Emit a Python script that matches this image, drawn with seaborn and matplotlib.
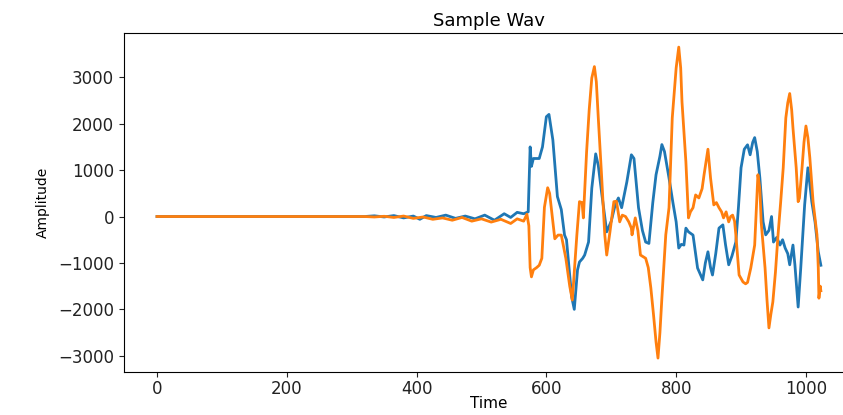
import matplotlib
matplotlib.use("Agg")
import matplotlib.pyplot as plt
import seaborn as sns

# Channel 1 (blue): sample index and amplitude
blue_t = [0, 320, 335, 350, 365, 380, 395, 405, 415, 430, 445, 460, 475, 490, 505, 520, 535, 545, 555, 565, 572,
          575, 577, 580, 589, 594, 600, 604, 610, 617, 623, 628, 631, 639, 643, 648, 651, 656, 659, 665, 670, 676,
          680, 685, 693, 700, 706, 711, 716, 724, 731, 735, 742, 748, 753, 758, 764, 769, 775, 778, 782, 789, 795,
          800, 804, 808, 812, 815, 819, 826, 833, 841, 845, 849, 853, 856, 861, 866, 872, 876, 881, 886, 892, 896,
          900, 905, 910, 914, 918, 921, 925, 929, 934, 938, 943, 947, 950, 955, 960, 964, 968, 972, 975, 980, 983,
          988, 992, 998, 1003, 1006, 1009, 1014, 1019, 1023]
blue_v = [0, 0, 15, -10, 20, -30, 10, -60, 20, -20, 30, -40, 10, -50, 30, -80, 60, -20, 90, 60, 100,
          1500, 1080, 1250, 1250, 1500, 2150, 2200, 1650, 430, 150, -400, -500, -1730, -2000, -1150, -980, -900, -830,
          -550, 610, 1350, 1100, 530, -330, -100, 250, 400, 190, 745, 1330, 1250, 190, -300, -550, -580, 300, 900,
          1300, 1550, 1400, 830, 300, -115, -680, -600, -615, -250, -330, -400, -1110, -1365, -1000, -760, -1100,
          -1260, -800, -250, -180, -600, -1040, -850, -550, 200, 1050, 1450, 1545, 1330, 1600, 1700, 1400, 830,
          -115, -395, -300, 0, -550, -450, -615, -500, -680, -800, -1040, -615, -1040, -1950, -1110, 250, 1050,
          700, 320, -115, -760, -1050]

# Channel 2 (orange): sample index and amplitude
orange_t = [0, 320, 335, 350, 365, 380, 395, 410, 425, 440, 455, 470, 485, 500, 515, 530, 545, 555, 565, 570, 573,
            575, 577, 580, 585, 589, 593, 597, 602, 605, 609, 613, 618, 623, 630, 636, 640, 644, 647, 651, 655, 657,
            662, 666, 670, 674, 677, 680, 685, 690, 693, 698, 704, 708, 713, 717, 722, 727, 731, 732, 737, 741, 745,
            753, 757, 761, 765, 769, 772, 775, 778, 784, 789, 794, 800, 804, 807, 809, 815, 819, 822, 826, 830, 835,
            840, 843, 849, 853, 858, 862, 866, 870, 873, 877, 881, 884, 887, 890, 892, 897, 903, 907, 910, 915, 921,
            926, 929, 931, 937, 940, 943, 946, 949, 953, 957, 961, 965, 969, 972, 975, 978, 980, 985, 988, 990, 994,
            997, 1000, 1003, 1006, 1011, 1017, 1019, 1020, 1022, 1023]
orange_v = [0, 0, -10, 5, -20, 10, -40, -10, -60, -30, -80, -20, -100, -50, -120, -60, -150, -50, -100, 50, -200,
            -1100, -1300, -1150, -1100, -1050, -900, 200, 620, 500, 0, -480, -400, -400, -900, -1500, -1800, -1000,
            -395, 320, 300, -30, 1395, 2300, 2985, 3230, 2900, 2125, 900, -395, -830, -330, 320, 330, -115, 30, 0,
            -115, -250, -395, -30, -300, -830, -900, -1100, -1540, -2100, -2700, -3050, -2500, -1760, -395, 190,
            2125, 3200, 3650, 3200, 2470, 1180, -30, 100, 190, 465, 400, 600, 900, 1450, 830, 250, 300, 190, 100,
            -30, 100, -115, 0, 30, -100, -395, -1260, -1410, -1450, -1420, -1110, -615, 900, 600, -115, -1110,
            -1800, -2400, -2100, -1840, -1200, -395, 300, 1050, 2125, 2450, 2650, 2300, 1910, 1050, 320, 400, 1050,
            1600, 1950, 1700, 1265, 320, -395, -1100, -1760, -1500, -1600]

title = "Sample Wav"
x_label = "Time"
y_label = "Amplitude"

fig = plt.figure(figsize=(8.43, 4.15), dpi=100)
ax = fig.add_axes([0.147, 0.1036, 0.866, 0.817])

sns.lineplot(x=blue_t, y=blue_v, ax=ax, color="#1f77b4", linewidth=2.0, estimator=None, sort=False)
sns.lineplot(x=orange_t, y=orange_v, ax=ax, color="#ff7f0e", linewidth=2.0, estimator=None, sort=False)

ax.set_xlim(-51, 1074)
ax.set_ylim(-3350, 3955)
ax.set_xticks([0, 200, 400, 600, 800, 1000])
ax.set_yticks([-3000, -2000, -1000, 0, 1000, 2000, 3000])
ax.tick_params(labelsize=12, colors="#222222")
ax.tick_params(axis="x", pad=2)
ax.set_title(title, fontsize=13, pad=5)
ax.set_xlabel(x_label, fontsize=11, labelpad=-1)
ax.set_ylabel(y_label, fontsize=10, labelpad=6)

fig.savefig("out.png", dpi=100)
